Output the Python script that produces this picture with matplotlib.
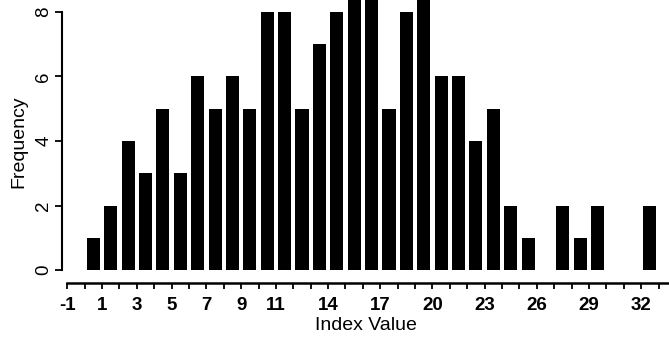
import numpy as np
import matplotlib.pyplot as plt

# histogram of index values, one bar per unit bin [k, k+1)
bin_left = list(range(0, 33))
freq = [1, 2, 4, 3, 5, 3, 6, 5, 6, 5,
        8, 8, 5, 7, 8, 9, 9, 5, 8, 9,
        6, 6, 4, 5, 2, 1, 0, 2, 1, 2,
        0, 0, 2]
tick_pos = list(range(-1, 34))
tick_lab = [-1, 1, 3, 5, 7, 9, 11, 14, 17, 20, 23, 26, 29, 32]
y_ticks = [0, 2, 4, 6, 8]

plt.rcParams['font.family'] = ['Liberation Sans', 'DejaVu Sans']

fig = plt.figure(figsize=(6.69, 3.46), dpi=100)
ax = fig.add_axes([62 / 669, 63 / 346, 607 / 669, 283 / 346])

centers = np.array(bin_left) + 0.5
ax.bar(centers, freq, width=0.75, color='black', linewidth=0)

ax.set_xlim(-1.3, 33.6)
ax.set_ylim(-0.4, 8.37)

for s in ['top', 'right']:
    ax.spines[s].set_visible(False)
ax.spines['left'].set_bounds(0, 8)
ax.spines['bottom'].set_bounds(-1, 33.6)
ax.spines['left'].set_linewidth(1.5)
ax.spines['bottom'].set_linewidth(1.8)

ax.set_xticks(tick_pos)
ax.set_xticklabels([str(t) if t in tick_lab else '' for t in tick_pos],
                   fontsize=13.5, fontweight='bold')
ax.set_yticks(y_ticks)
ax.set_yticklabels([str(t) for t in y_ticks], fontsize=13.5, rotation=90, va='center')
ax.tick_params(axis='x', direction='out', length=4, width=1.3, pad=6)
ax.tick_params(axis='y', direction='out', length=5, width=1.3, pad=2)

ax.set_xlabel('Index Value', fontsize=14, labelpad=2)
ax.set_ylabel('Frequency', fontsize=14, labelpad=6)

fig.savefig('out.png', dpi=100)
